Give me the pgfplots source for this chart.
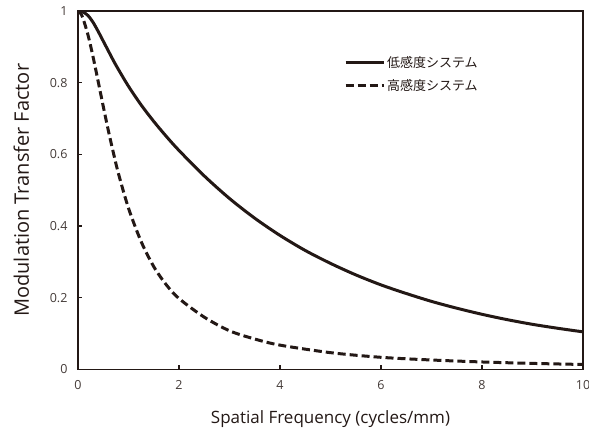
\documentclass[border=0pt]{standalone}
\usepackage{pgfplots}
\pgfplotsset{compat=1.18}
\usepackage{fontspec}
\setmainfont{Open Sans}
\newfontfamily\cjk{Noto Sans CJK JP}
\definecolor{ink}{RGB}{35,24,21}
\begin{document}
\begin{tikzpicture}
\useasboundingbox (-78pt,-66.5pt) rectangle (511pt,369.5pt);
\begin{axis}[
  at={(0,0)}, anchor=south west,
  scale only axis, width=505pt, height=358.5pt,
  xmin=0, xmax=10, ymin=0, ymax=1,
  xtick={0,2,4,6,8,10}, ytick={0,0.2,0.4,0.6,0.8,1},
  xticklabels={0,2,4,6,8,10}, yticklabels={0,0.2,0.4,0.6,0.8,1},
  tick align=inside, xtick pos=bottom, ytick pos=left,
  major tick length=4pt,
  axis line style={ink, line width=1.6pt},
  tick style={ink, line width=1.2pt},
  ticklabel style={font=\fontsize{12.5}{14}\selectfont, text=ink!85},
  xticklabel style={yshift=-7pt},
  yticklabel style={xshift=-7pt},
  /pgf/number format/assume math mode=true,
  xlabel={Spatial Frequency (cycles/mm)},
  ylabel={Modulation Transfer Factor},
  xlabel style={font=\fontsize{17}{20}\selectfont, text=ink, yshift=-14pt},
  ylabel style={font=\fontsize{20}{23}\selectfont, text=ink, yshift=14pt},
  legend style={draw=none, fill=none, at={(0.527,0.88)}, anchor=north west,
    font=\cjk\fontsize{13}{16}\selectfont, text=ink, row sep=7pt,
    inner sep=0pt, outer sep=0pt},
  legend cell align=left,
  legend image code/.code={\draw[#1] (0pt,0pt) -- (38pt,0pt);},
]
\addplot[ink, line width=3pt, smooth, tension=0.5] coordinates {
(0,1.0) (0.1,0.997) (0.2,0.987) (0.3,0.968) (0.4,0.943) (0.5,0.916) (0.6,0.889)
(0.7,0.862) (0.8,0.837) (1.0,0.790) (1.25,0.738) (1.5,0.692) (1.75,0.650)
(2.0,0.611) (2.5,0.540) (3.0,0.477) (3.5,0.422) (4.0,0.374) (4.5,0.332)
(5.0,0.296) (5.5,0.264) (6.0,0.236) (6.5,0.212) (7.0,0.190) (7.5,0.171)
(8.0,0.154) (8.5,0.139) (9.0,0.126) (9.5,0.115) (10,0.105)
};
\addlegendentry{低感度システム}
\addplot[ink, line width=3pt, dash pattern=on 8pt off 4pt, smooth, tension=0.5] coordinates {
(0,1.0) (0.05,0.994) (0.1,0.979) (0.2,0.932) (0.3,0.871) (0.4,0.803) (0.5,0.734)
(0.6,0.667) (0.7,0.605) (0.8,0.547) (1.0,0.450) (1.25,0.357) (1.5,0.287)
(1.75,0.236) (2.0,0.198) (2.5,0.146) (3.0,0.108) (3.5,0.085) (4.0,0.068)
(5.0,0.047) (6.0,0.034) (7.0,0.0265) (8.0,0.021) (9.0,0.017) (10,0.014)
};
\addlegendentry{高感度システム}
\end{axis}
\end{tikzpicture}
\end{document}
